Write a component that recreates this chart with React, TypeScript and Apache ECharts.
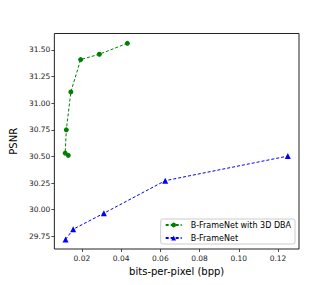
import React, { useEffect, useRef } from "react";
import * as echarts from "echarts";

const dbaBpp = [0.0432, 0.0289, 0.0194, 0.0144, 0.0121, 0.0115, 0.0131];
const dbaPsnr = [31.563, 31.46, 31.41, 31.106, 30.75, 30.531, 30.51];
const baseBpp = [0.0117, 0.0156, 0.03125, 0.0625, 0.125];
const basePsnr = [29.72, 29.816, 29.966, 30.272, 30.503];
const xTicks = [0.02, 0.04, 0.06, 0.08, 0.1, 0.12];
const yTicks = [29.75, 30.0, 30.25, 30.5, 30.75, 31.0, 31.25, 31.5];

const FONT = "DejaVu Sans";

export default function App() {
  const ref = useRef<HTMLDivElement>(null);
  useEffect(() => {
    document.body.style.margin = "0";
    const chart = echarts.init(ref.current!, undefined, { renderer: "svg" });
    chart.setOption({
      animation: false,
      backgroundColor: "#fff",
      textStyle: { fontFamily: FONT },
      grid: {
        left: 41,
        top: 33.5,
        right: 33,
        bottom: 36,
        show: true,
        borderColor: "#222",
        borderWidth: 1,
        backgroundColor: "transparent",
      },
      legend: {
        orient: "vertical",
        right: 37,
        top: 219,
        padding: [2, 4, 2, 4],
        itemGap: 5,
        itemWidth: 16,
        itemHeight: 6,
        borderColor: "#ccc",
        borderWidth: 1,
        borderRadius: 2,
        backgroundColor: "rgba(255,255,255,0.85)",
        textStyle: { fontSize: 8, color: "#000", fontFamily: FONT, padding: [0, 0, 0, 4] },
        data: ["B-FrameNet with 3D DBA", "B-FrameNet"],
      },
      xAxis: {
        type: "value",
        min: 0.006,
        max: 0.1307,
        name: "bits-per-pixel (bpp)",
        nameLocation: "middle",
        nameGap: 12,
        nameTextStyle: { fontSize: 10, color: "#000", fontFamily: FONT, verticalAlign: "top" },
        axisLine: { show: false },
        splitLine: { show: false },
        axisTick: {
          show: true,
          length: 3,
          inside: false,
          customValues: xTicks,
          lineStyle: { color: "#222", width: 0.8 },
        },
        axisLabel: {
          customValues: xTicks,
          fontSize: 7.5,
          color: "#222",
          margin: 5,
          fontFamily: FONT,
          formatter: (v: number) => v.toFixed(2),
        },
      },
      yAxis: {
        type: "value",
        min: 29.63,
        max: 31.655,
        name: "PSNR",
        nameLocation: "middle",
        nameGap: 30,
        nameRotate: 90,
        nameTextStyle: { fontSize: 10, color: "#000", fontFamily: FONT },
        axisLine: { show: false },
        splitLine: { show: false },
        axisTick: {
          show: true,
          length: 3,
          customValues: yTicks,
          lineStyle: { color: "#222", width: 0.8 },
        },
        axisLabel: {
          customValues: yTicks,
          fontSize: 7.5,
          color: "#222",
          margin: 4,
          fontFamily: FONT,
          formatter: (v: number) => v.toFixed(2),
        },
      },
      series: [
        {
          name: "B-FrameNet with 3D DBA",
          type: "line",
          data: dbaBpp.map((x, i) => [x, dbaPsnr[i]]),
          symbol: "circle",
          symbolSize: 5,
          itemStyle: { color: "#008000" },
          lineStyle: { color: "#008000", width: 1, type: [3, 2] },
        },
        {
          name: "B-FrameNet",
          type: "line",
          data: baseBpp.map((x, i) => [x, basePsnr[i]]),
          symbol: "triangle",
          symbolSize: 6,
          itemStyle: { color: "#0000ff" },
          lineStyle: { color: "#0000ff", width: 1, type: [3, 2] },
        },
      ],
    });
    return () => chart.dispose();
  }, []);
  return <div ref={ref} style={{ width: 332, height: 285 }} />;
}
